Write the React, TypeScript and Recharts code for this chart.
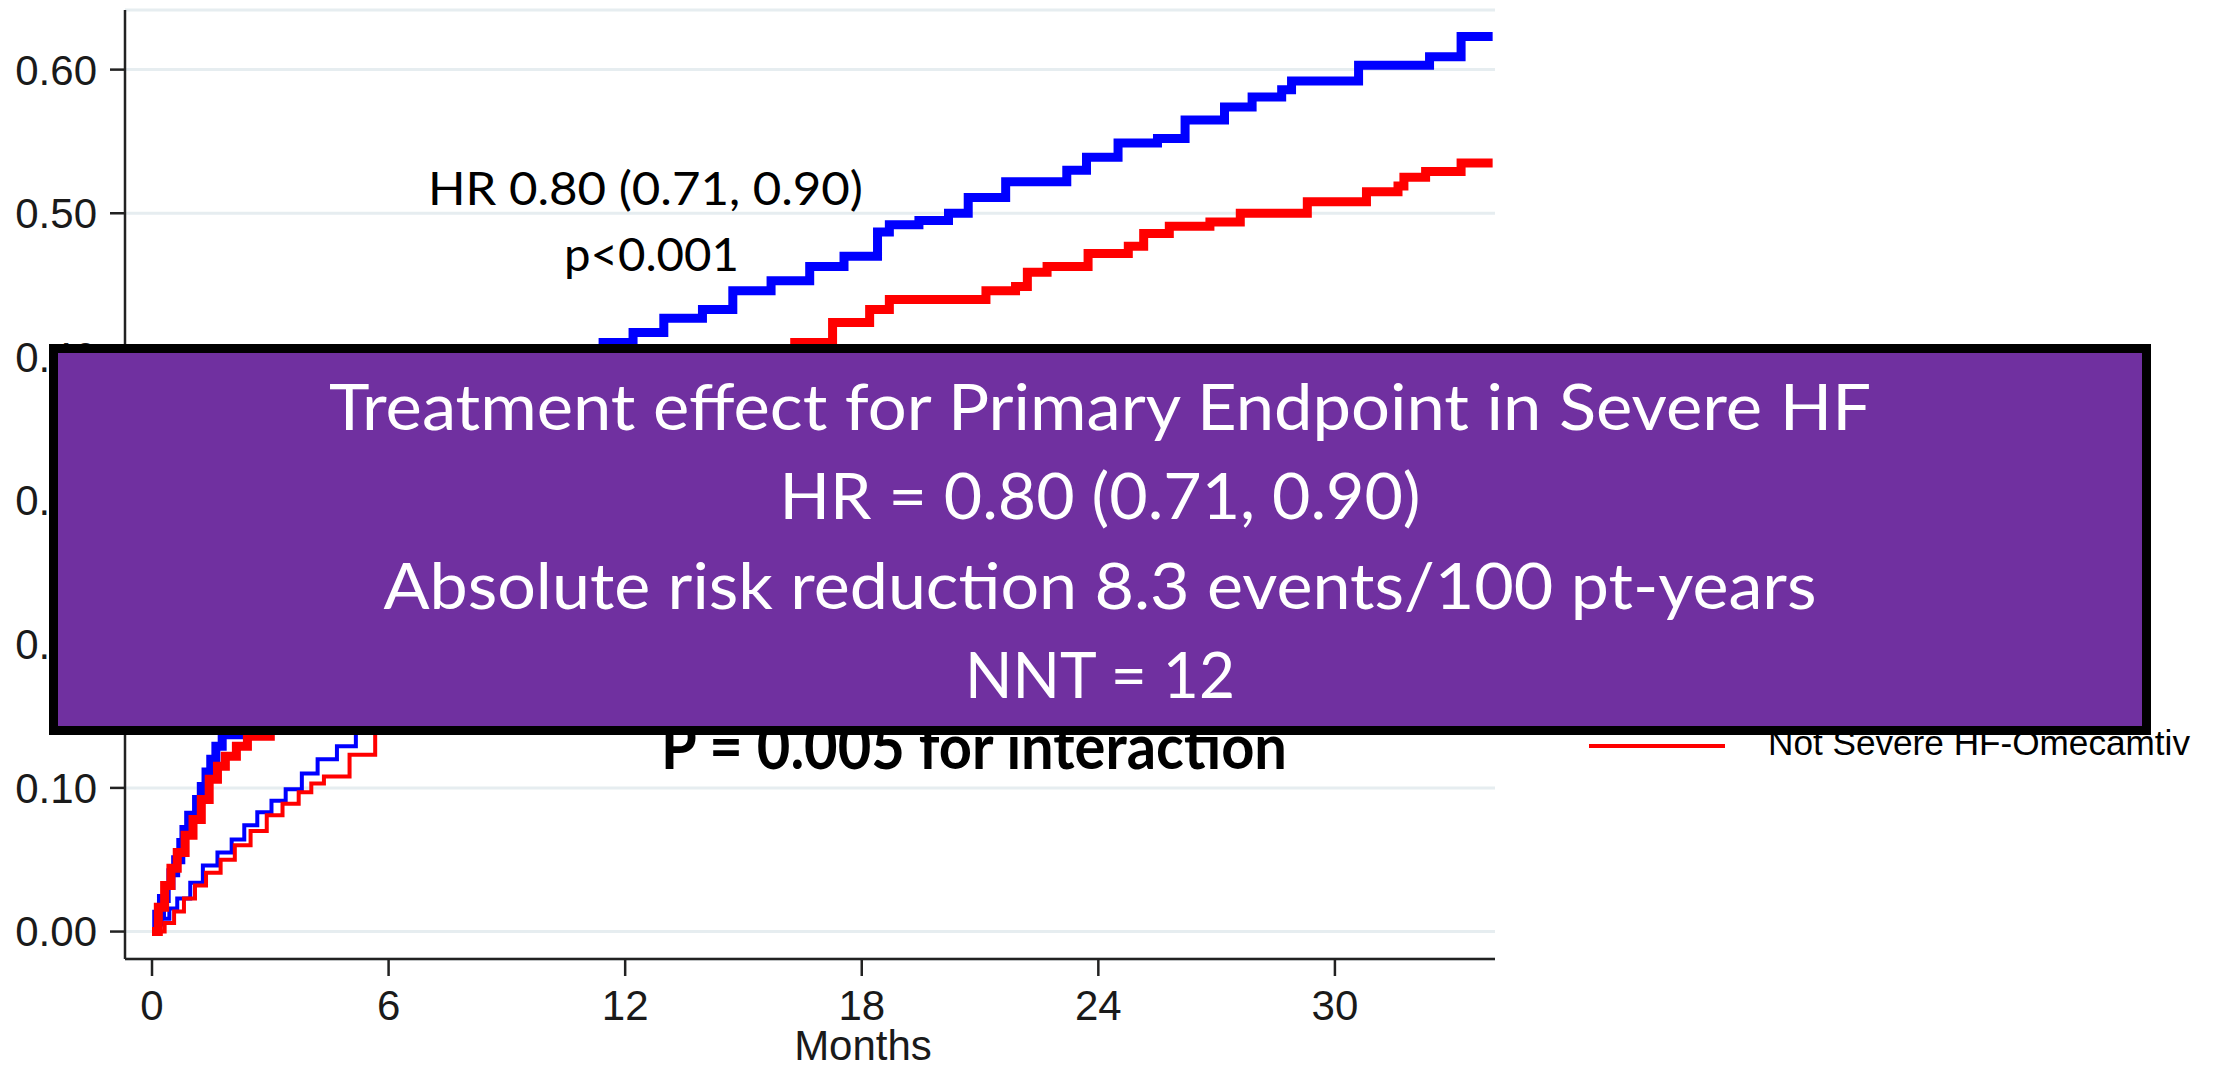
import { LineChart, Line, XAxis, YAxis, CartesianGrid } from "recharts";

// Kaplan-Meier cumulative incidence, months vs proportion
const severePlaceboMonths = [0, 0.12, 0.24, 0.36, 0.48, 0.6, 0.73, 0.81, 0.93, 1.13, 1.25, 1.37, 1.49, 1.62, 1.78, 2.2, 2.8, 3.5, 4.3, 5.2, 6.2, 7.2, 8.2, 9.2, 10.2, 10.9, 11.44, 12.2, 12.98, 13.96, 14.73, 15.7, 16.68, 17.55, 18.4, 18.7, 19.45, 20.2, 20.7, 21.65, 23.2, 23.7, 24.5, 25.5, 26.2, 27.2, 27.9, 28.65, 28.9, 30.6, 32.4, 33.2, 34.0];
const severePlaceboRisk = [0, 0.012, 0.023, 0.032, 0.041, 0.05, 0.062, 0.071, 0.081, 0.092, 0.101, 0.111, 0.12, 0.129, 0.137, 0.155, 0.18, 0.205, 0.23, 0.255, 0.28, 0.305, 0.33, 0.355, 0.38, 0.4, 0.41, 0.417, 0.427, 0.433, 0.446, 0.453, 0.463, 0.47, 0.487, 0.492, 0.495, 0.5, 0.511, 0.522, 0.53, 0.539, 0.549, 0.552, 0.565, 0.574, 0.581, 0.586, 0.592, 0.603, 0.609, 0.623, 0.623];

const severeOmecamtivMonths = [0, 0.16, 0.32, 0.48, 0.64, 0.84, 1.04, 1.25, 1.45, 1.66, 1.86, 2.14, 2.42, 3.0, 3.8, 4.8, 6.0, 7.2, 8.5, 9.8, 11.0, 12.3, 13.6, 14.8, 15.7, 16.3, 17.26, 18.2, 18.7, 21.15, 21.9, 22.2, 22.7, 23.74, 24.76, 25.15, 25.8, 26.83, 27.6, 29.3, 30.8, 31.6, 31.75, 32.3, 33.2, 34.0];
const severeOmecamtivRisk = [0, 0.017, 0.032, 0.044, 0.055, 0.067, 0.078, 0.092, 0.106, 0.115, 0.122, 0.129, 0.136, 0.152, 0.175, 0.2, 0.228, 0.255, 0.28, 0.305, 0.33, 0.355, 0.375, 0.39, 0.4, 0.41, 0.424, 0.433, 0.44, 0.446, 0.449, 0.459, 0.463, 0.472, 0.477, 0.486, 0.491, 0.494, 0.5, 0.508, 0.515, 0.519, 0.525, 0.529, 0.535, 0.535];

const notSeverePlaceboMonths = [0, 0.12, 0.24, 0.44, 0.64, 0.97, 1.29, 1.66, 2.02, 2.34, 2.67, 3.03, 3.39, 3.8, 4.2, 4.69, 5.17, 6.5, 9, 12, 15, 18, 21, 24, 27, 30, 34];
const notSeverePlaceboRisk = [0, 0.005, 0.009, 0.016, 0.023, 0.034, 0.046, 0.055, 0.064, 0.074, 0.083, 0.091, 0.099, 0.11, 0.12, 0.129, 0.139, 0.16, 0.195, 0.23, 0.26, 0.285, 0.31, 0.33, 0.35, 0.37, 0.39];

const notSevereOmecamtivMonths = [0, 0.32, 0.56, 0.81, 1.09, 1.37, 1.74, 2.1, 2.5, 2.91, 3.31, 3.72, 4.04, 4.36, 5.01, 5.66, 7, 9.5, 12, 15, 18, 21, 24, 27, 30, 34];
const notSevereOmecamtivRisk = [0, 0.006, 0.014, 0.023, 0.032, 0.041, 0.05, 0.06, 0.07, 0.081, 0.089, 0.097, 0.103, 0.108, 0.123, 0.139, 0.16, 0.19, 0.22, 0.25, 0.275, 0.3, 0.32, 0.34, 0.36, 0.38];

const monthTicks = [0, 6, 12, 18, 24, 30];
const riskTicks = [0, 0.1, 0.2, 0.3, 0.4, 0.5, 0.6];

const boxLines = [
  "Treatment effect for Primary Endpoint in Severe HF",
  "HR = 0.80 (0.71, 0.90)",
  "Absolute risk reduction 8.3 events/100 pt-years",
  "NNT = 12",
];
const boxLineWidths = [1542, 641, 1433, 270];

const toPoints = (months: number[], risk: number[]) =>
  months.map((m, i) => ({ m, risk: risk[i] }));

const axisFont = { fontSize: 42, fill: "#1a1a1a", fontFamily: "Liberation Sans, Arial, sans-serif" };

export default function App() {
  return (
    <div style={{ position: "absolute", left: 0, top: 0, width: 2218, height: 1069, background: "#fff" }}>
      <LineChart
        width={2218}
        height={1069}
        margin={{ top: 10, right: 723, bottom: 50, left: 55 }}
      >
        <CartesianGrid vertical={false} stroke="#e6edf0" strokeWidth={3} />
        <XAxis
          type="number"
          dataKey="m"
          domain={[-0.685, 34.06]}
          ticks={monthTicks}
          allowDataOverflow
          height={60}
          tickSize={17}
          tickMargin={14}
          stroke="#222"
          strokeWidth={2.5}
          tick={axisFont}
        />
        <YAxis
          type="number"
          domain={[-0.0191, 0.6415]}
          ticks={riskTicks}
          allowDataOverflow
          width={70}
          tickSize={15}
          tickMargin={13}
          stroke="#222"
          strokeWidth={2.5}
          tick={axisFont}
          tickFormatter={(v: number) => v.toFixed(2)}
        />
        <Line
          data={toPoints(notSeverePlaceboMonths, notSeverePlaceboRisk)}
          dataKey="risk"
          type="stepAfter"
          stroke="#0000ff"
          strokeWidth={4}
          dot={false}
          isAnimationActive={false}
        />
        <Line
          data={toPoints(notSevereOmecamtivMonths, notSevereOmecamtivRisk)}
          dataKey="risk"
          type="stepAfter"
          stroke="#ff0000"
          strokeWidth={4}
          dot={false}
          isAnimationActive={false}
        />
        <Line
          data={toPoints(severePlaceboMonths, severePlaceboRisk)}
          dataKey="risk"
          type="stepAfter"
          stroke="#0000ff"
          strokeWidth={9}
          dot={false}
          isAnimationActive={false}
        />
        <Line
          data={toPoints(severeOmecamtivMonths, severeOmecamtivRisk)}
          dataKey="risk"
          type="stepAfter"
          stroke="#ff0000"
          strokeWidth={9}
          dot={false}
          isAnimationActive={false}
        />
      </LineChart>

      <svg
        width={2218}
        height={1069}
        style={{ position: "absolute", left: 0, top: 0, pointerEvents: "none" }}
      >
        <text x={863} y={1060} textAnchor="middle" style={axisFont}>
          Months
        </text>

        <g fontFamily="Lato, sans-serif" fill="#000">
          <text x={428} y={205} fontSize={46} textLength={435} lengthAdjust="spacingAndGlyphs">
            HR 0.80 (0.71, 0.90)
          </text>
          <text x={564} y={271} fontSize={46} textLength={175} lengthAdjust="spacingAndGlyphs">
            p&lt;0.001
          </text>
          <text x={661} y={769} fontSize={63} fontWeight="bold" textLength={626} lengthAdjust="spacingAndGlyphs">
            P = 0.005 for interaction
          </text>
        </g>

        <line x1={1589} x2={1725} y1={746} y2={746} stroke="#ff0000" strokeWidth={4} />
        <text
          x={1768}
          y={755}
          fontSize={35}
          fontFamily="Liberation Sans, Arial, sans-serif"
          fill="#000"
          textLength={422}
          lengthAdjust="spacingAndGlyphs"
        >
          Not Severe HF-Omecamtiv
        </text>

        <rect x={53.5} y={348.5} width={2093} height={382} fill="#7030a0" stroke="#000" strokeWidth={9} />
        {boxLines.map((line, i) => (
          <text
            key={line}
            x={1100}
            y={430 + i * 89.3}
            textAnchor="middle"
            fontSize={63}
            fontFamily="Lato, sans-serif"
            fill="#fff"
            textLength={boxLineWidths[i]}
            lengthAdjust="spacingAndGlyphs"
          >
            {line}
          </text>
        ))}
      </svg>
    </div>
  );
}
